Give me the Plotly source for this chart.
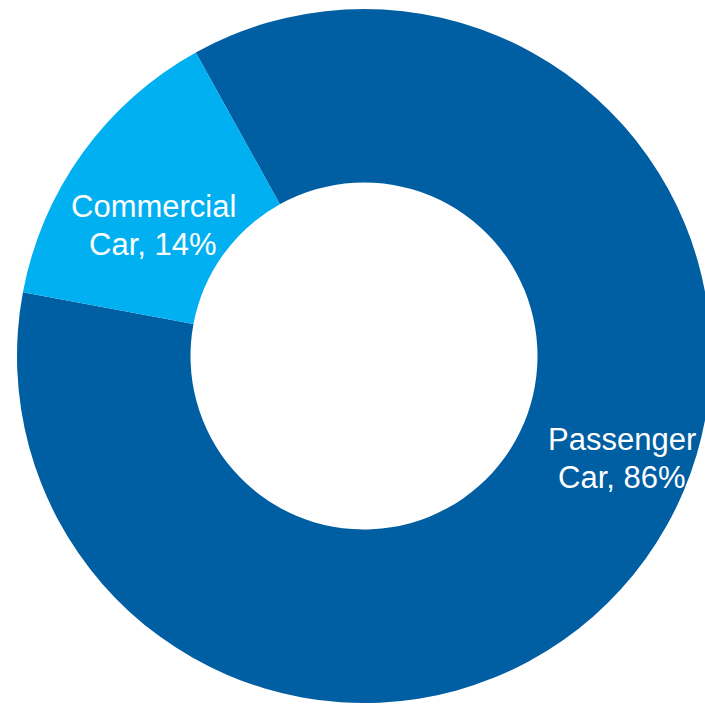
import plotly.graph_objects as go

# Vehicle mix
categories = ["Passenger Car", "Commercial Car"]
shares = [86, 14]
colors = ["#005EA3", "#00B0F0"]

# Label line centres in pixels: (x, first line y, second line y)
label_pos = [(622, 439, 477), (153, 207, 245)]

W, H = 711, 705

fig = go.Figure(
    go.Pie(
        labels=categories,
        values=shares,
        hole=0.5,
        sort=False,
        direction="clockwise",
        rotation=-29,
        marker=dict(colors=colors, line=dict(width=0)),
        textinfo="none",
        hoverinfo="label+percent",
        showlegend=False,
        domain=dict(x=[17 / W, 1], y=[1 - 703 / H, 1 - 9 / H]),
    )
)

label_font = dict(family="Liberation Sans, Arial, sans-serif", size=31, color="white")

for cat, val, (lx, ly1, ly2) in zip(categories, shares, label_pos):
    first, second = cat.split(" ", 1)
    for line, ly in ((first, ly1), (f"{second}, {val}%", ly2)):
        fig.add_annotation(
            text=line,
            x=lx / W,
            y=1 - ly / H,
            xref="paper",
            yref="paper",
            xanchor="center",
            yanchor="middle",
            showarrow=False,
            font=label_font,
        )

fig.update_layout(
    width=W,
    height=H,
    margin=dict(l=0, r=0, t=0, b=0),
    paper_bgcolor="white",
    plot_bgcolor="white",
)

fig.write_html(
    "out.html",
    post_script="document.documentElement.style.overflow='hidden';document.body.style.overflow='hidden';",
)
